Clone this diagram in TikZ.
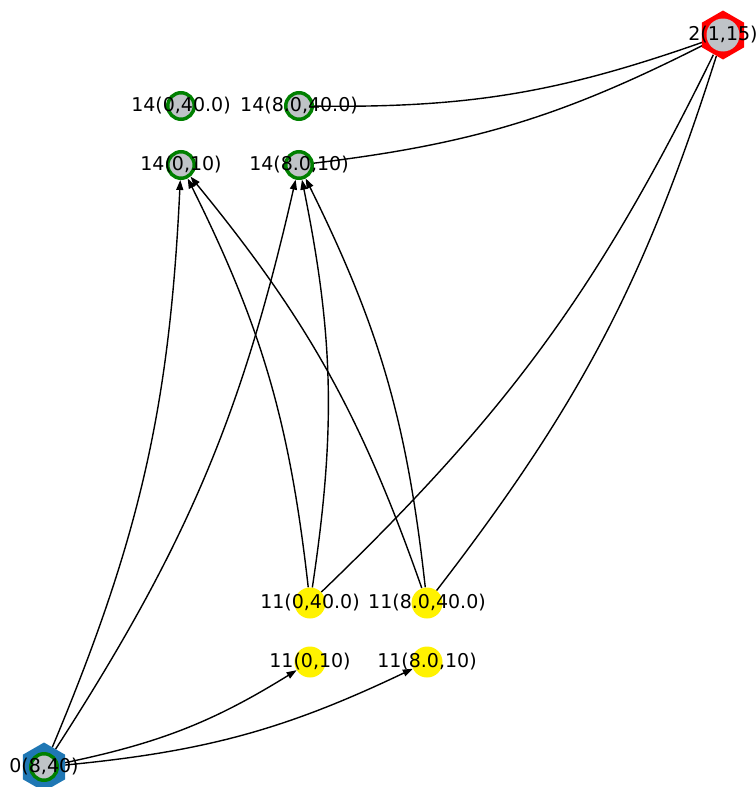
\documentclass[tikz,border=0pt]{standalone}
\usepackage{fontspec}
\setmainfont{DejaVu Sans}
\usetikzlibrary{arrows.meta}
\pgfdeclarelayer{bg}
\pgfsetlayers{bg,main}
\definecolor{nodegray}{RGB}{191,195,199}
\definecolor{mplblue}{RGB}{31,119,180}
\definecolor{mplgreen}{RGB}{0,128,0}
\begin{document}
\begin{tikzpicture}[x=1pt,y=1pt,
  txt/.style={font=\fontsize{19}{22}\selectfont, text=black, inner sep=0pt},
  ring/.style={circle, draw=mplgreen, line width=3.5pt, fill=nodegray, minimum size=26.5pt, inner sep=0pt},
  yel/.style={circle, fill=yellow, minimum size=31pt, inner sep=0pt},
  edge/.style={line width=1.4pt, black},
  arr/.style={edge, -{Triangle[length=10pt,width=7pt]}},
]
\useasboundingbox (0,-787) rectangle (755,0);
% hexagon backgrounds
\fill[red] (723,-35) +(90:24.5) -- +(150:24.5) -- +(210:24.5) -- +(270:24.5) -- +(330:24.5) -- +(30:24.5) -- cycle;
\fill[mplblue] (44,-767) +(90:24.5) -- +(150:24.5) -- +(210:24.5) -- +(270:24.5) -- +(330:24.5) -- +(30:24.5) -- cycle;
% nodes
\node[circle, fill=nodegray, minimum size=33pt, inner sep=0pt, outer sep=5.5pt, label={[txt]center:2(1,15)}] (a) at (723,-35) {};
\node[ring, label={[txt]center:14(0,40.0)}] (b1) at (181,-106) {};
\node[ring, label={[txt]center:14(8.0,40.0)}] (b2) at (299,-106) {};
\node[ring, label={[txt]center:14(0,10)}] (c1) at (181,-165) {};
\node[ring, label={[txt]center:14(8.0,10)}] (c2) at (299,-165) {};
\node[yel, label={[txt]center:11(0,40.0)}] (d1) at (310,-603) {};
\node[yel, label={[txt]center:11(8.0,40.0)}] (d2) at (427,-603) {};
\node[yel, label={[txt]center:11(0,10)}] (e1) at (310,-662) {};
\node[yel, label={[txt]center:11(8.0,10)}] (e2) at (427,-662) {};
\node[ring, outer sep=8pt, label={[txt]center:0(8,40)}] (f) at (44,-767) {};
% edges
\begin{pgfonlayer}{bg}
\draw[edge] (b2) to[bend right=10] (a);
\draw[edge] (c2) to[bend right=10] (a);
\draw[edge] (d1) to[bend right=10] (a);
\draw[edge] (d2) to[bend right=10] (a);
\draw[arr] (d1) to[bend right=10] (c1);
\draw[arr] (d1) to[bend right=10] (c2);
\draw[arr] (d2) to[bend right=10] (c1);
\draw[arr] (d2) to[bend right=10] (c2);
\draw[arr] (f) to[bend right=10] (c1);
\draw[arr] (f) to[bend right=10] (c2);
\draw[arr] (f) to[bend right=10] (e1);
\draw[arr] (f) to[bend right=10] (e2);
\end{pgfonlayer}
\end{tikzpicture}
\end{document}
